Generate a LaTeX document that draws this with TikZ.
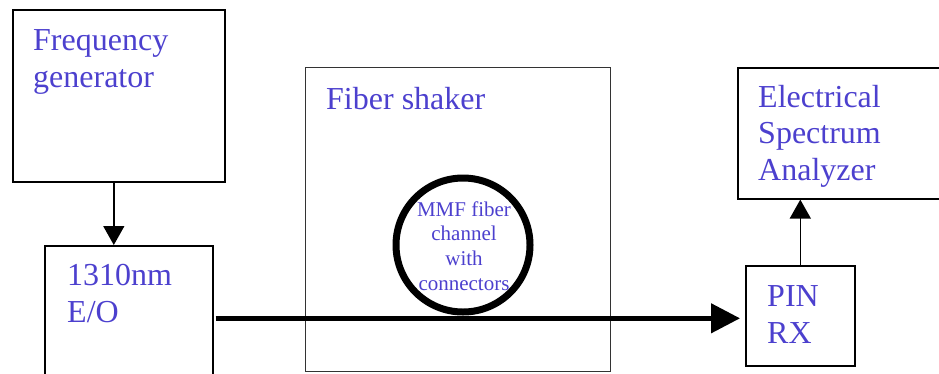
\documentclass[tikz,border=0pt]{standalone}
\usepackage{fontspec}
\setmainfont{Liberation Serif}
\usetikzlibrary{arrows.meta}
\definecolor{labelblue}{RGB}{76,64,206}
\begin{document}
\begin{tikzpicture}[x=1pt,y=-1pt,
  box/.style={draw, line width=1.6pt, inner sep=0pt, anchor=north west},
  thinbox/.style={draw=black!80, line width=1.1pt, inner sep=0pt, anchor=north west},
  % multi-line labels: base is the baseline of the last line
  biglabel/.style={font=\fontsize{32}{36.5}\selectfont, text=labelblue,
    anchor=base west, align=left, inner sep=0pt},
  smalllabel/.style={font=\fontsize{21}{24.6}\selectfont, text=labelblue,
    anchor=base, align=center, inner sep=0pt},
  signal/.style={line width=1.5pt, -{Triangle[length=19pt,width=21pt]}},
  fiber/.style={line width=4.5pt, -{Triangle[length=29pt,width=29pt]}}]
\useasboundingbox (0,0) rectangle (939,373);
\clip (0,0) rectangle (939,373);

% instrument boxes
\node[box, minimum width=212pt, minimum height=172pt] (fg) at (12,9) {};
\node[box, minimum width=168pt, minimum height=145pt] (eo) at (44,245) {};
\node[thinbox, minimum width=305pt, minimum height=304pt] (shaker) at (305,67) {};
\node[box, minimum width=109pt, minimum height=100pt] (pin) at (745,265) {};
\node[box, minimum width=240pt, minimum height=131pt] (esa) at (737,67) {};

% fibre spool
\node[circle, draw, line width=7pt, minimum size=134pt, inner sep=0pt] (spool) at (463,245) {};

% labels
\node[biglabel] (fgtext) at (33,87) {Frequency\\generator};
\node[biglabel] (eotext) at (67,322) {1310nm\\E/O};
\node[biglabel] (shakertext) at (326,109) {Fiber shaker};
\node[biglabel] (pintext) at (767,343) {PIN\\RX};
\node[biglabel] (esatext) at (758,180) {Electrical\\Spectrum\\Analyzer};
\node[smalllabel] (spooltext) at (464,290) {MMF fiber\\channel\\with\\connectors};

% connections
\draw[signal] ([xshift=-5pt]fg.south) -- ([xshift=-5pt]fg.south |- eo.north);
\draw[signal] (pin.north) -- (pin.north |- esa.south);
\draw[fiber, shorten <=2pt, shorten >=5pt] (eo.east) -- (eo.east -| pin.west);
\end{tikzpicture}
\end{document}
